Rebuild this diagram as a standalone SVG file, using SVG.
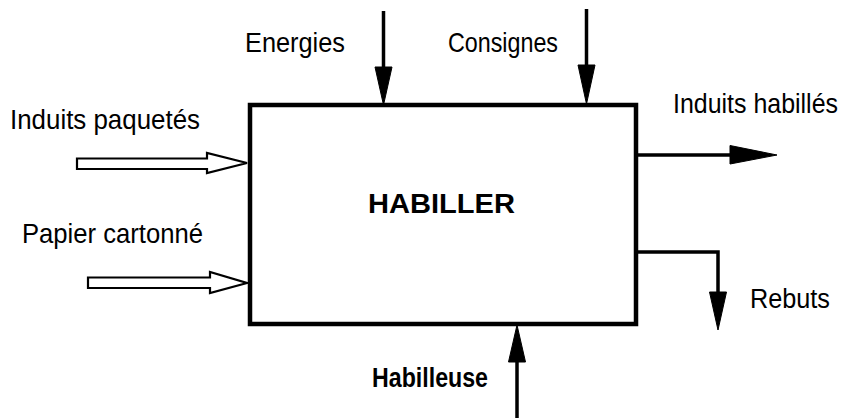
<svg xmlns="http://www.w3.org/2000/svg" width="854" height="418" viewBox="0 0 854 418">
<style>
text{font-family:"Liberation Sans",Arial,sans-serif;fill:#000;font-size:27.5px}
.b{font-weight:bold}
.ln{stroke:#000;stroke-width:3.5;fill:none}
.hd{fill:#000;stroke:#000;stroke-width:1}
.hol{fill:#fff;stroke:#000;stroke-width:2.2;stroke-linejoin:miter}
</style>
<rect width="854" height="418" fill="#fff"/>
<g id="habiller">
<rect x="250" y="105" width="386" height="219" fill="#fff" stroke="#000" stroke-width="4.5"/>
<text class="b" x="368" y="213" font-size="29" textLength="147" lengthAdjust="spacingAndGlyphs">HABILLER</text>
</g>
<g id="labels">
<text x="245" y="52" textLength="100" lengthAdjust="spacingAndGlyphs">Energies</text>
<text x="448" y="52" textLength="110" lengthAdjust="spacingAndGlyphs">Consignes</text>
<text x="10" y="129" textLength="190" lengthAdjust="spacingAndGlyphs">Induits paquetés</text>
<text x="22" y="243" textLength="181" lengthAdjust="spacingAndGlyphs">Papier cartonné</text>
<text x="673" y="113" font-size="25" textLength="165" lengthAdjust="spacingAndGlyphs">Induits habillés</text>
<text x="750" y="308" textLength="80" lengthAdjust="spacingAndGlyphs">Rebuts</text>
<text class="b" x="372" y="387" font-size="27" textLength="116" lengthAdjust="spacingAndGlyphs">Habilleuse</text>
</g>
<g id="connectors">
<line class="ln" x1="383.5" y1="11" x2="383.5" y2="70"/>
<polygon class="hd" points="375,67 392,67 383.5,105"/>
<line class="ln" x1="586.5" y1="9" x2="586.5" y2="68"/>
<polygon class="hd" points="578,65 595,65 586.5,104"/>
<line class="ln" x1="636" y1="155" x2="733" y2="155"/>
<polygon class="hd" points="730,145.5 730,164 777,155"/>
<polyline class="ln" points="636,252 718,252 718,295"/>
<polygon class="hd" points="709.5,292 726.5,292 718,330"/>
<line class="ln" x1="517" y1="418" x2="517" y2="358"/>
<polygon class="hd" points="508.5,362 525.5,362 517,325"/>
<polygon class="hol" points="77,158.5 207,158.5 207,153 247,163 207,173 207,169 77,169"/>
<polygon class="hol" points="88,277.5 210,277.5 210,272 247,283 210,293 210,288 88,288"/>
</g>
</svg>
